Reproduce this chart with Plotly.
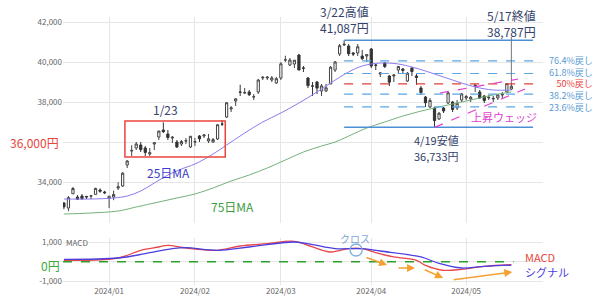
import pandas as pd
import plotly.graph_objects as go

# ---------------- data ----------------
holidays = ["2024-01-01", "2024-01-02", "2024-01-03", "2024-01-08", "2024-02-12",
            "2024-02-23", "2024-03-20", "2024-04-29", "2024-05-03", "2024-05-06"]
dates = [d.strftime("%Y-%m-%d") for d in pd.bdate_range("2023-12-18", "2024-05-17")
         if d.strftime("%Y-%m-%d") not in holidays]

open_ = [32950, 32700, 33410, 33250, 33300, 33280, 33300, 33380, 33600, 33500,
         33193, 33250, 33700, 33800, 34850, 35550, 35700, 35850, 35700, 35400,
         35900, 36250, 36600, 36400, 36200, 36000, 35900, 36050, 35750,
         36000, 36300, 36300, 36050, 36000, 36150, 36900, 37250, 37650, 38050,
         38500, 38450, 38500, 38250, 38500, 39200, 39200, 39100, 38950,
         39200, 40100, 39850, 39900, 40350, 39700, 39200, 38800, 39000, 38550,
         38550, 38900, 39600, 40400, 40850, 40800, 40450, 40450, 40300, 40300,
         40650, 39850, 39400, 39950, 39300, 39300, 39600, 39650, 39050, 39700,
         39300, 38700, 38250, 37750, 37700, 37150, 37700, 37950, 38000, 37700, 38100,
         38200, 38150, 38800, 38500, 38300, 38200, 38150, 38200, 38350, 38500, 38650]
high = [33000, 33300, 33750, 33350, 33400, 33300, 33330, 33710, 33680, 33560,
        33299, 33568, 33990, 34500, 35100, 35839, 36000, 36000, 35800, 35700,
        36000, 36568, 36984, 36600, 36300, 36100, 36100, 36200, 36300,
        36200, 36350, 36400, 36400, 36200, 36900, 37100, 38000, 37800, 38200,
        38865, 38700, 38600, 38400, 39156, 39300, 39300, 39300, 39250,
        39990, 40314, 40200, 40100, 40400, 39800, 39250, 39000, 39050, 38900,
        38900, 39800, 40050, 40900, 41087, 40900, 40500, 40900, 40600, 40400,
        40700, 39900, 39500, 40000, 39350, 39400, 39800, 39700, 39500, 39750,
        39400, 38800, 38300, 38200, 37750, 37500, 37750, 38500, 38050, 38100, 38450,
        38350, 38300, 38900, 38600, 38350, 38350, 38300, 38400, 38500, 38950, 38950]
low = [32640, 32540, 33400, 33100, 33100, 33150, 33150, 33380, 33460, 33400,
       32693, 33090, 33600, 33750, 34700, 35300, 35600, 35500, 35300, 35300,
       35600, 36100, 36450, 36100, 35950, 35700, 35800, 35900, 35700,
       35800, 36000, 36200, 35950, 35950, 36100, 36800, 37200, 37500, 37800,
       38300, 38400, 38300, 38100, 38400, 39100, 39100, 39000, 38900,
       39100, 40000, 39800, 39700, 39600, 39500, 38700, 38300, 38400, 38300,
       38500, 38900, 39500, 40300, 40800, 40300, 40300, 40300, 40100, 40000,
       39700, 39600, 39250, 39700, 38800, 39000, 39400, 39400, 39000, 39300,
       38850, 38350, 37750, 37700, 36733, 37100, 37450, 37900, 37500, 37600, 38000,
       38100, 38000, 38500, 38150, 37950, 38100, 38000, 38100, 38200, 38450, 38600]
close = [32758, 33219, 33675, 33141, 33169, 33254, 33305, 33681, 33539, 33464,
         33288, 33377, 33763, 34441, 35049, 35577, 35901, 35619, 35477, 35466,
         35963, 36546, 36517, 36226, 36236, 35751, 36026, 36065, 36286,
         36011, 36158, 36354, 36160, 36119, 36863, 36897, 37963, 37703, 38157,
         38487, 38470, 38363, 38262, 39098, 39233, 39239, 39208, 39166,
         39910, 40109, 40097, 40090, 39598, 39688, 38820, 38797, 38695, 38807,
         38707, 39740, 40003, 40815, 40888, 40414, 40398, 40762, 40168, 40369,
         39803, 39838, 39451, 39773, 38992, 39347, 39773, 39581, 39442, 39523,
         39232, 38471, 37962, 38079, 37068, 37438, 37552, 38460, 37628, 37934, 38405,
         38274, 38236, 38835, 38202, 38073, 38229, 38179, 38356, 38385, 38920, 38787]

# moving averages (trading-day number, value)
ma25_day = [0, 6, 11, 14, 17, 20, 23, 26, 29, 33, 36, 40, 44, 48, 52, 56, 59, 63,
            66, 70, 74, 77, 80, 84, 88, 91, 95, 99]
ma25_val = [33150, 33150, 33200, 33300, 33550, 33950, 34350, 34650, 34900, 35400,
            35850, 36450, 37000, 37450, 37950, 38500, 38950, 39500, 39800, 39950,
            39900, 39750, 39550, 39250, 38950, 38750, 38600, 38600]
ma75_day = [0, 6, 12, 16, 21, 25, 29, 33, 37, 41, 45, 49, 53, 57, 60, 64, 67, 71,
            75, 80, 84, 88, 92, 95, 99]
ma75_val = [32400, 32450, 32550, 32750, 33000, 33200, 33400, 33700, 34050, 34350,
            34700, 35100, 35500, 35800, 36000, 36400, 36700, 37000, 37300, 37600,
            37800, 38000, 38200, 38350, 38500]

# MACD / signal
macd_day = [0, 12, 17, 21, 23, 27, 34, 39, 45, 51, 55, 59, 63, 66, 69, 73, 78, 80,
            84, 88, 93, 99]
macd_val = [75, 195, 595, 766, 853, 714, 595, 818, 939, 1060, 766, 506, 680, 680,
            472, 247, 75, -185, -445, -393, -237, -153]
sig_day = [0, 12, 18, 24, 27, 34, 41, 51, 55, 60, 66, 70, 79, 83, 88, 93, 99]
sig_val = [127, 195, 420, 680, 732, 595, 766, 1026, 887, 680, 680, 558, 247, -87,
           -325, -237, -175]

fib_high, fib_high_date = 41087, "2024-03-22"
fib_low, fib_low_date = 36733, "2024-04-19"
fib_ratios = [0.764, 0.618, 0.5, 0.382, 0.236]
fib_names = ["76.4%戻し", "61.8%戻し", "50%戻し", "38.2%戻し", "23.6%戻し"]
last_date = "2024-05-17"

month_ticks = ["2024/01", "2024/02", "2024/03", "2024/04", "2024/05"]

# ---------------- figure ----------------
W, H = 600, 297
ML, MR, MT, MB = 63, 57, 17, 12
PH = H - MT - MB


def py(ypx):
    return (H - MB - ypx) / PH


def px(xpx):
    return (xpx - ML) / (W - ML - MR)


FONT = "Noto Sans CJK JP, Noto Sans, sans-serif"
idx = {d: i for i, d in enumerate(dates)}
tickvals = []
for m in month_ticks:
    key = m.replace("/", "-")
    tickvals.append(next(d for d in dates if d.startswith(key)))

fig = go.Figure()
fig.add_trace(go.Candlestick(
    x=dates, open=open_, high=high, low=low, close=close,
    increasing=dict(line=dict(color="#444444", width=1), fillcolor="#ffffff"),
    decreasing=dict(line=dict(color="#333333", width=1), fillcolor="#333333"),
    whiskerwidth=0, xaxis="x", yaxis="y", showlegend=False, hoverinfo="skip"))
fig.add_trace(go.Scatter(x=[dates[i] for i in ma75_day], y=ma75_val, mode="lines",
                         line=dict(color="#74b27c", width=1, shape="spline"),
                         xaxis="x", yaxis="y", showlegend=False))
fig.add_trace(go.Scatter(x=[dates[i] for i in ma25_day], y=ma25_val, mode="lines",
                         line=dict(color="#8a7cf0", width=1, shape="spline"),
                         xaxis="x", yaxis="y", showlegend=False))
fig.add_trace(go.Scatter(x=[dates[i] for i in macd_day], y=macd_val, mode="lines",
                         line=dict(color="#e8474a", width=1.3, shape="spline"),
                         xaxis="x2", yaxis="y2", showlegend=False))
fig.add_trace(go.Scatter(x=[dates[i] for i in sig_day], y=sig_val, mode="lines",
                         line=dict(color="#4b3ee0", width=1.3, shape="spline"),
                         xaxis="x2", yaxis="y2", showlegend=False))

xr = [-0.2, 106]
axis_common = dict(type="category", categoryorder="array", categoryarray=dates,
                   range=xr, tickvals=tickvals, showgrid=True, gridcolor="#e3e5ea",
                   gridwidth=1, zeroline=False, showline=False, ticks="",
                   rangeslider=dict(visible=False), automargin=False)
fig.update_layout(
    width=W, height=H, margin=dict(l=ML, r=MR, t=MT, b=MB),
    paper_bgcolor="white", plot_bgcolor="white", template="none",
    font=dict(family=FONT, color="#666666", size=8),
    xaxis=dict(**axis_common, domain=[0, 1], anchor="y", showticklabels=False),
    xaxis2=dict(**axis_common, domain=[0, 1], anchor="y2", ticktext=month_ticks,
                tickfont=dict(size=8, color="#666666")),
    yaxis=dict(domain=[py(223), 1], range=[31950, 42250],
               tickvals=[34000, 36000, 38000, 40000, 42000],
               ticktext=["34,000", "", "38,000", "40,000", "42,000"],
               gridcolor="#e6e6e6", zeroline=False, showline=False, ticks="",
               tickfont=dict(size=8, color="#666666"), automargin=False),
    yaxis2=dict(domain=[0, py(238)], range=[-1208, 1233],
                tickvals=[-1000, 0, 1000], ticktext=["-1,000", "", "1,000"],
                gridcolor="#e6e6e6", zeroline=False, showline=False, ticks="",
                tickfont=dict(size=8, color="#666666"), automargin=False),
)

shapes = []
hi_i, lo_i, last_i = idx[fib_high_date], idx[fib_low_date], idx[last_date]
line_end = 103.8
# high / low solid lines
for lvl in (fib_high, fib_low):
    shapes.append(dict(type="line", xref="x", yref="y", x0=hi_i, x1=line_end,
                       y0=lvl, y1=lvl, line=dict(color="#4d8fd6", width=1.5)))
# retracement dashed lines
for r in fib_ratios:
    lvl = fib_low + r * (fib_high - fib_low)
    col = "#e0403a" if r == 0.5 else "#5aa6e6"
    shapes.append(dict(type="line", xref="x", yref="y", x0=hi_i, x1=line_end + 0.8,
                       y0=lvl, y1=lvl, line=dict(color=col, width=1.2, dash="dash")))
# 5/17 leader line
shapes.append(dict(type="line", xref="x", yref="y", x0=last_i, x1=last_i,
                   y0=high[last_i], y1=41250, line=dict(color="#777777", width=1)))
# rising wedge
shapes.append(dict(type="line", xref="x", yref="y", x0=83.2, x1=100.5, y0=38450, y1=39150,
                   line=dict(color="#e040d0", width=1.2, dash="dash")))
shapes.append(dict(type="line", xref="x", yref="y", x0=lo_i, x1=102, y0=fib_low, y1=38650,
                   line=dict(color="#e040d0", width=1.2, dash="dash")))
# 1/23 box
shapes.append(dict(type="rect", xref="x", yref="y", x0=13.5, x1=35.7, y0=35250, y1=37050,
                   line=dict(color="#e8453c", width=1.5)))
# MACD zero line
shapes.append(dict(type="line", xref="x2", yref="y2", x0=-0.2, x1=99.5, y0=0, y1=0,
                   line=dict(color="#2ca02c", width=1.5, dash="dash")))
# cross circle
shapes.append(dict(type="circle", xref="x2", yref="y2", x0=63.3, x1=66.0, y0=299, y1=922,
                   line=dict(color="#80aee0", width=1.3)))
fig.update_layout(shapes=shapes)

ann = []
NAVY = "#34426b"


def label(text, xpx, ypx, color=NAVY, size=12, anchor="center", align="center"):
    ann.append(dict(text=text, xref="paper", yref="paper", x=px(xpx), y=py(ypx),
                    xanchor=anchor, yanchor="middle", showarrow=False, borderpad=0,
                    align=align, font=dict(family=FONT, size=size, color=color)))


label("3/22高値", 344, 12)
label(f"{fib_high:,}円", 344, 28)
label("5/17終値", 511, 15)
label(f"{close[last_i]:,}円", 511, 31)
label("1/23", 165, 110)
label("4/19安値", 436, 140, size=11)
label(f"{fib_low:,}円", 436, 156, size=11)
label("36,000円", 34, 142, color="#e8453c")
label("25日MA", 168, 172, color="#3c3cc8")
label("75日MA", 232, 206, color="#3c9c3c")
label("上昇ウェッジ", 504, 117, color="#e040d0", size=11)

# retracement labels as one right-aligned block centred on the middle (50%) level
fib_lines = []
for r, name in zip(fib_ratios, fib_names):
    col = "#e8453c" if r == 0.5 else "#5a9bd5"
    fib_lines.append(f"<span style='color:{col}'>{name}</span>")
ann.append(dict(text="<br>".join(fib_lines), xref="paper", yref="y", x=px(594),
                y=fib_low + 0.5 * (fib_high - fib_low), xanchor="right", yanchor="middle",
                align="right", showarrow=False, borderpad=0,
                font=dict(family=FONT, size=9, color="#5a9bd5")))

label("MACD", 65, 242, color="#666666", size=8, anchor="left")
label("0円", 50, 265, color="#3aaa3a", size=12)
label("クロス", 355, 238, color="#7fa7d6", size=10)
label("MACD", 524, 257, color="#e8453c", size=11, anchor="left")
label("シグナル", 524, 272, color="#4b3ee0", size=11, anchor="left")

arrows = [((66.6, 247), (71.5, -169)), ((73.7, -325), (77.7, -325)),
          ((79.5, -377), (83.9, -844)), ((85.9, -948), (99.2, -532))]
for (tx, ty), (hx, hy) in arrows:
    ann.append(dict(x=hx, y=hy, ax=tx, ay=ty, xref="x2", yref="y2", axref="x2",
                    ayref="y2", showarrow=True, arrowhead=2, arrowsize=1,
                    arrowwidth=1.6, arrowcolor="#f5a030", text=""))
fig.update_layout(annotations=ann)

fig.write_html("out.html")
